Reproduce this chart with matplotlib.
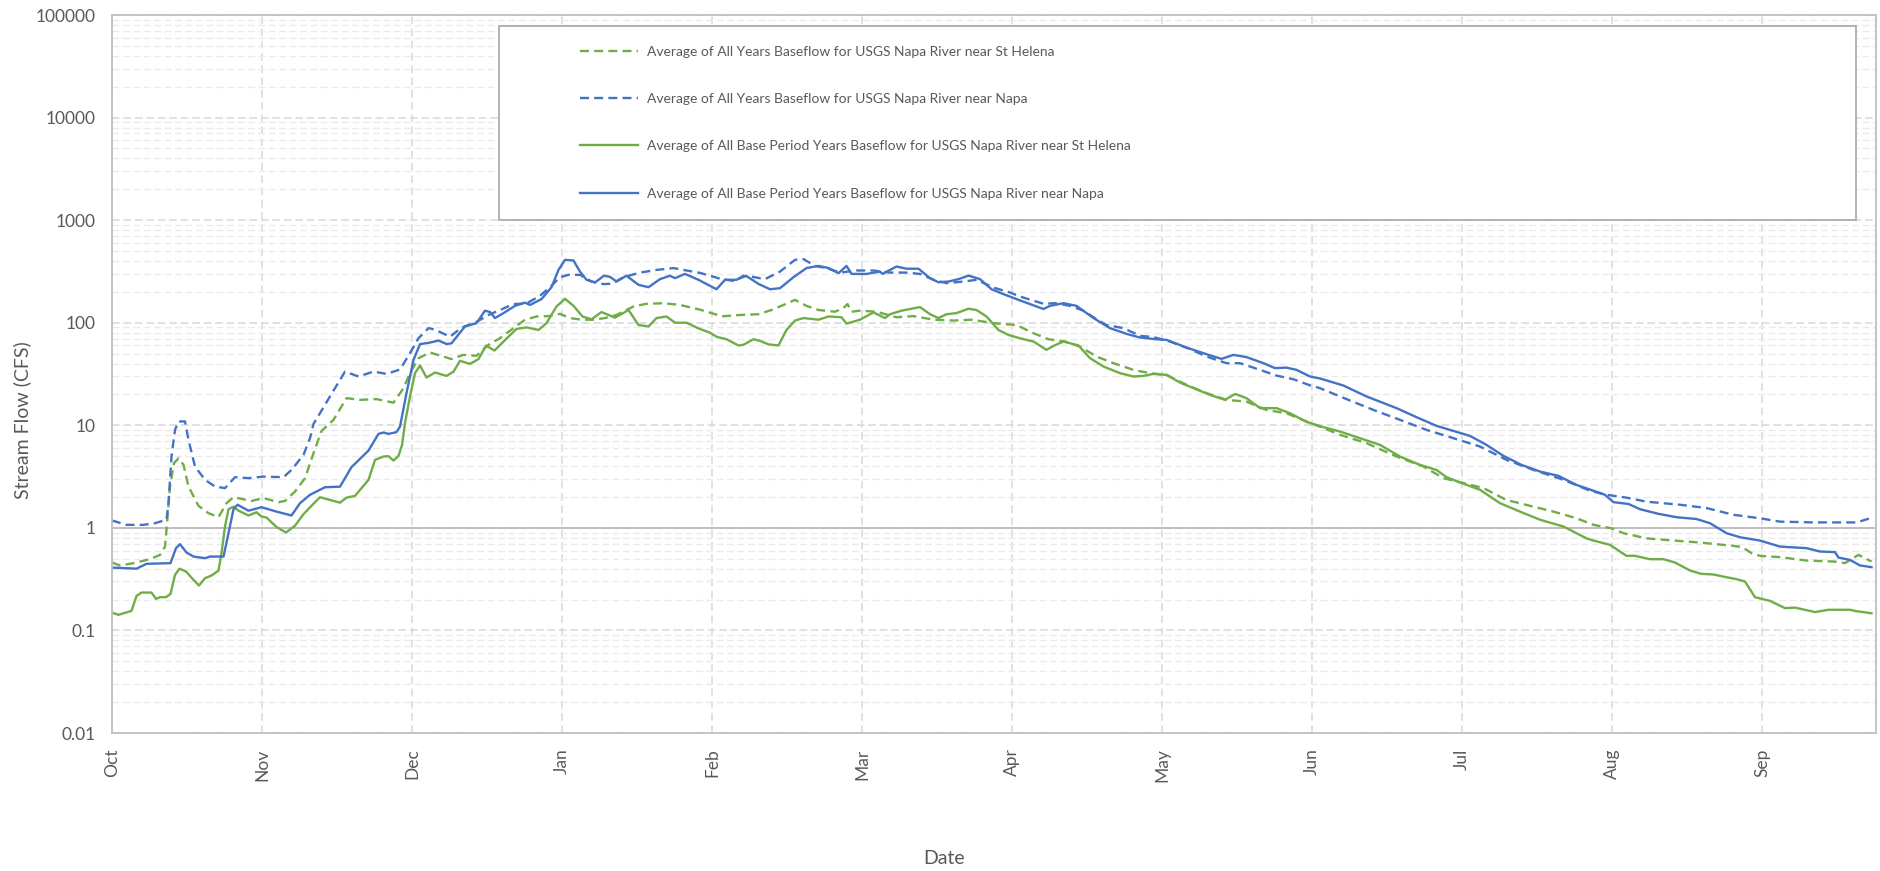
import matplotlib
matplotlib.use("Agg")
import matplotlib.pyplot as plt
from matplotlib.patches import Rectangle
from matplotlib.ticker import FixedLocator, LogLocator, NullFormatter

plt.rcParams['font.family'] = ['Lato', 'DejaVu Sans']

## month tick labels (each month = 30 day-units on this axis)
months = ['Oct', 'Nov', 'Dec', 'Jan', 'Feb', 'Mar', 'Apr', 'May', 'Jun', 'Jul', 'Aug', 'Sep']
ytick_vals = [0.01, 0.1, 1, 10, 100, 1000, 10000, 100000]
ytick_labels = ['0.01', '0.1', '1', '10', '100', '1000', '10000', '100000']

labels = ['Average of All Years Baseflow for USGS Napa River near St Helena',
          'Average of All Years Baseflow for USGS Napa River near Napa',
          'Average of All Base Period Years Baseflow for USGS Napa River near St Helena',
          'Average of All Base Period Years Baseflow for USGS Napa River near Napa']

## all years, St Helena (green dashed)
sth_all_day = [0, 1.6, 4.3, 7.6, 9.6, 10.6, 10.9, 11.6, 12.4, 13.3, 14.3, 15.3, 17.3, 19.3, 21.3, 22.9,
               24.3, 27.9, 30.3, 33.3, 34.6, 36.6, 38.6, 40.3, 41.9, 44.3, 46.9, 49.6, 52.9, 56.3, 58.3,
               59.6, 61.3, 63.6, 66.3, 67.9, 70.3, 72.9, 75.3, 77.6, 80.3, 82.6, 84.9, 87.3, 89.6, 91.6,
               93.9, 96.3, 98.6, 100.9, 104.3, 106.9, 110.3, 113.6, 117.6, 120.9, 121.6, 125.6, 129.3,
               131.9, 134.3, 136.6, 138.9, 141.3, 144.6, 146.3, 147.1, 147.9, 149.6, 152.9, 156.9, 160.3,
               164.3, 168.3, 171.9, 176.3, 178.5, 180.9, 184.3, 187.3, 190.6, 193.6, 196.9, 200.3, 204.3,
               207.6, 210.9, 214.9, 218.9, 222.9, 226.9, 230.9, 234.9, 238.9, 241.6, 245.6, 250.9, 256.9,
               262.3, 266.3, 270.3, 274.3, 278.9, 283.6, 288.3, 292.9, 296.3, 299.9, 302.3, 306.9, 312.3,
               317.6, 324.3, 326.0, 327.9, 329.6, 333.6, 338.9, 344.3, 346.6, 349.3, 351.9]
sth_all = [0.459, 0.43, 0.453, 0.495, 0.545, 0.657, 0.956, 2.53, 4.27, 4.78, 4.11, 2.53, 1.64, 1.39, 1.27, 1.74,
           1.99, 1.83, 1.95, 1.78, 1.83, 2.26, 3.05, 5.35, 8.8, 11.3, 18.4, 17.7, 18.0, 16.6, 23,
           32.2, 45.1, 51.2, 46.8, 44.2, 48.6, 47.6, 60.8, 70.7, 88.5, 107, 115, 116, 122, 111,
           107, 107, 111, 119, 144, 153, 155, 149, 134, 120, 115, 119, 121,
           133, 149, 167, 146, 133, 128, 139, 152, 128, 131, 128, 113, 116,
           107, 105, 107, 99, 97, 95, 79, 69, 65.5, 58.5, 46.8, 40.3, 34.7,
           32.2, 31.0, 24.8, 20.6, 17.7, 17.0, 14.1, 13.1, 10.9, 9.7, 8.07, 6.7, 4.96,
           3.96, 3.05, 2.73, 2.44, 1.87, 1.64, 1.44, 1.24, 1.07, 0.99, 0.887, 0.79, 0.752,
           0.719, 0.667, 0.65, 0.567, 0.533, 0.518, 0.48, 0.47, 0.453, 0.545, 0.47]

## all years, Napa (blue dashed)
napa_all_day = [0, 2.9, 6.3, 8.6, 10.9, 11.3, 11.9, 12.6, 13.3, 14.6, 15.3, 16.6, 18.6, 20.6, 22.6, 24.6,
                27.3, 30.3, 34.3, 35.9, 38.3, 39.6, 40.3, 43.6, 46.6, 49.3, 52.3, 54.9, 57.6, 59.6, 61.3,
                63.3, 64.5, 67.6, 69.9, 72.6, 75.3, 77.6, 80.3, 82.9, 85.6, 87.9, 89.6, 91.3, 93.6, 95.9,
                98.3, 100.0, 102.3, 105.6, 108.9, 112.3, 114.9, 117.6, 120.6, 121.6, 124.3, 126.9, 130.6,
                133.6, 136.6, 138.3, 140.6, 142.9, 145.6, 148.9, 152.3, 155.6, 158.9, 161.6, 164.3, 166.9,
                170.3, 172.9, 176.3, 179.6, 181.6, 186.3, 188.6, 191.6, 194.3, 196.9, 198.9, 202.3, 205.6,
                208.3, 211.6, 215.6, 218.9, 222.9, 225.6, 229.6, 232.9, 236.3, 239.6, 241.6, 246.9, 252.3,
                257.6, 262.9, 268.3, 273.6, 278.9, 284.3, 290.3, 295.6, 298.9, 302.9, 306.9, 313.6, 318.9,
                324.3, 329.6, 333.6, 340.3, 348.9, 351.9]
napa_all = [1.18, 1.07, 1.07, 1.11, 1.20, 1.74, 4.96, 9.0, 10.9, 10.9, 7.21, 3.96, 2.94, 2.53, 2.44, 3.12,
            3.05, 3.16, 3.12, 3.67, 5.15, 7.48, 10.3, 19.1, 33.4, 29.9, 33.4, 31.7, 35, 50.5, 70.7,
            88.5, 86, 73, 89.5, 100, 119, 133, 152, 154, 183, 229, 278, 293, 293, 252,
            238, 240, 278, 308, 327, 341, 323, 306, 278, 268, 256, 287, 266,
            315, 410, 417, 358, 341, 308, 323, 323, 308, 308, 299, 262, 243,
            252, 262, 220, 197, 180, 153, 155, 146, 131, 108, 95, 88.5, 74.5,
            72.5, 65.5, 55.3, 46.8, 40.3, 40.3, 34.7, 30.5, 28.1, 24.5, 23.0, 18.0, 14.1,
            11.3, 9.02, 7.48, 6.21, 4.6, 3.67, 2.94, 2.3, 2.10, 1.97, 1.80, 1.68, 1.56,
            1.34, 1.24, 1.15, 1.13, 1.13, 1.25]

## base period years, St Helena (green solid)
sth_base_day = [0, 1.3, 3.9, 4.9, 5.9, 7.9, 8.8, 9.6, 10.8, 11.7, 12.6, 13.5, 14.8, 16.3, 17.4, 18.6, 19.9,
                21.3, 21.9, 22.6, 23.3, 24.3, 25.3, 27.3, 28.9, 29.9, 30.9, 32.9, 34.8, 36.6, 38.3, 39.9,
                41.6, 43.6, 45.6, 46.9, 48.6, 51.3, 52.6, 54.3, 55.3, 56.3, 57.3, 58.0, 58.6, 59.6, 60.6,
                61.6, 62.9, 64.6, 66.9, 68.3, 69.6, 71.6, 73.3, 74.8, 76.5, 78.3, 80.9, 82.9, 85.3, 86.9,
                88.9, 90.6, 92.3, 94.1, 95.9, 97.9, 100.6, 103.3, 105.3, 107.3, 108.9, 110.9, 112.6, 114.9,
                117.3, 119.6, 120.9, 122.9, 125.3, 126.3, 128.3, 129.6, 131.3, 133.3, 134.9, 136.6, 138.3,
                141.3, 143.3, 145.9, 146.9, 149.6, 152.3, 154.6, 155.6, 157.9, 159.6, 161.6, 163.6, 165.3,
                166.9, 168.9, 171.3, 172.9, 174.9, 177.3, 179.3, 181.6, 184.3, 186.9, 188.3, 190.3, 193.3,
                195.6, 198.3, 201.6, 204.3, 206.3, 208.3, 210.9, 213.6, 216.3, 219.6, 222.6, 224.6, 226.9,
                229.6, 232.9, 235.6, 238.9, 241.6, 245.6, 249.6, 253.6, 257.6, 261.6, 264.9, 266.9, 269.6,
                273.6, 277.6, 281.6, 285.6, 290.3, 294.9, 296.3, 299.6, 302.9, 304.5, 307.6, 310.3, 312.6,
                315.6, 317.9, 320.3, 322.9, 324.9, 326.6, 328.6, 331.6, 334.6, 336.6, 340.6, 343.3, 347.6,
                348.9, 351.9]
sth_base = [0.149, 0.142, 0.155, 0.217, 0.234, 0.234, 0.203, 0.211, 0.211, 0.227, 0.348, 0.40, 0.375, 0.311,
            0.274, 0.323, 0.343,
            0.383, 0.567, 1.03, 1.52, 1.61, 1.47, 1.32, 1.42, 1.29, 1.26, 1.02, 0.90, 1.05, 1.36, 1.64,
            1.99, 1.87, 1.76, 1.97, 2.05, 2.94, 4.6, 4.96, 5.0, 4.53, 5.03, 6.4, 10.5, 19.1, 32.2,
            38.3, 29.2, 32.7, 30.3, 33.4, 42.5, 39.7, 44.2, 59.9, 53.5, 65.5, 87, 90, 85, 99,
            144, 171, 146, 115, 108, 127, 112, 133, 95, 92, 111, 115, 100, 100,
            88, 80, 73, 69, 60, 61, 69, 66.5, 61.5, 60, 85, 105, 111,
            107, 115, 113, 98, 107, 126, 111, 121, 131, 136, 142, 121, 111,
            121, 124, 137, 133, 115, 85, 76, 70.5, 65.5, 54.4, 59.5, 65.5, 60,
            45.1, 37.4, 32.2, 29.9, 30.3, 31.7, 31.0, 26.1, 23.0, 19.8, 17.7, 20.2, 18.4,
            14.7, 14.7, 13.1, 10.8, 9.8, 8.69, 7.48, 6.44, 4.96, 4.11, 3.67, 3.12, 2.77,
            2.35, 1.74, 1.44, 1.20, 1.03, 0.79, 0.752, 0.683, 0.533, 0.535, 0.495, 0.495, 0.459,
            0.384, 0.356, 0.351, 0.330, 0.316, 0.30, 0.211, 0.194, 0.165, 0.167, 0.151, 0.159, 0.159,
            0.154, 0.147]

## base period years, Napa (blue solid)
napa_base_day = [0, 4.9, 6.9, 11.7, 12.8, 13.6, 14.9, 16.3, 18.6, 19.6, 22.3, 23.3, 24.3, 25.1, 27.3, 29.9,
                 32.9, 35.9, 37.6, 39.6, 42.6, 45.6, 47.9, 51.3, 53.3, 54.3, 55.3, 56.9, 57.6, 58.9, 60.3,
                 61.6, 63.6, 65.3, 66.9, 67.9, 70.6, 72.9, 74.6, 75.6, 76.6, 78.3, 80.6, 82.6, 83.6, 85.9,
                 87.9, 89.3, 90.6, 92.3, 93.6, 94.9, 96.6, 98.4, 99.6, 100.9, 102.9, 105.3, 107.3, 109.6,
                 111.6, 112.6, 114.6, 117.3, 120.9, 122.6, 124.9, 126.3, 127.0, 129.3, 131.6, 133.6, 136.3,
                 138.9, 141.3, 143.3, 145.3, 146.9, 147.9, 150.9, 153.6, 154.1, 156.9, 158.9, 161.3, 163.6,
                 165.3, 167.3, 169.3, 171.3, 173.6, 175.9, 178.3, 181.6, 186.3, 187.6, 190.3, 192.9, 196.3,
                 199.6, 202.9, 205.6, 208.9, 210.9, 214.9, 218.9, 221.9, 224.3, 226.9, 230.3, 232.6, 234.9,
                 236.9, 239.6, 241.6, 246.3, 250.9, 256.9, 260.9, 264.9, 267.6, 271.6, 274.9, 278.3, 281.9,
                 285.6, 289.3, 292.9, 296.3, 298.6, 300.3, 303.3, 305.6, 309.3, 312.9, 316.9, 319.6, 322.9,
                 325.6, 329.6, 333.6, 338.9, 341.6, 344.6, 345.3, 347.6, 349.6, 351.9]
napa_base = [0.41, 0.40, 0.446, 0.453, 0.634, 0.693, 0.575, 0.525, 0.506, 0.525, 0.525, 0.887, 1.52, 1.68, 1.47,
             1.59,
             1.44, 1.32, 1.74, 2.10, 2.49, 2.52, 3.91, 5.67, 8.25, 8.5, 8.25, 8.57, 9.7, 20.6, 43.4,
             61.8, 64, 67, 62, 63, 92, 99, 131, 127, 111, 124, 146, 157, 149, 170,
             222, 327, 410, 404, 315, 262, 247, 287, 280, 252, 287, 234, 222, 266,
             287, 272, 299, 262, 212, 262, 262, 287, 283, 239, 212, 217, 278,
             341, 358, 341, 304, 358, 299, 299, 315, 299, 353, 336, 336, 272,
             248, 252, 266, 288, 266, 212, 190, 165, 136, 146, 155, 146, 111,
             88.5, 77.9, 71.7, 69, 68, 57.3, 49.3, 44.4, 48.6, 46.2, 40.3, 36.1, 36.5,
             34.7, 29.9, 28.6, 24.4, 19.1, 14.7, 12.0, 9.87, 9.02, 7.88, 6.44, 5.03, 4.11,
             3.54, 3.21, 2.62, 2.30, 2.10, 1.78, 1.71, 1.52, 1.37, 1.27, 1.22, 1.11, 0.887,
             0.81, 0.752, 0.657, 0.634, 0.588, 0.58, 0.513, 0.487, 0.43, 0.414]

green = '#70AD47'
blue = '#4472C4'
text_col = '#595959'
grid_col = '#D9D9D9'

fig = plt.figure(figsize=(18.81, 8.71), dpi=100)
ax = fig.add_axes([112 / 1881, 1 - 733 / 871, (1876 - 112) / 1881, (733 - 15) / 871])

dash = (0, (3.8, 2.2))
l1, = ax.plot(sth_all_day, sth_all, color=green, lw=1.7, linestyle=dash)
l2, = ax.plot(napa_all_day, napa_all, color=blue, lw=1.7, linestyle=dash)
l3, = ax.plot(sth_base_day, sth_base, color=green, lw=1.7)
l4, = ax.plot(napa_base_day, napa_base, color=blue, lw=1.7)

ax.set_yscale('log')
ax.set_ylim(0.01, 100000)
ax.set_xlim(0, 352.8)

ax.yaxis.set_major_locator(FixedLocator(ytick_vals))
ax.set_yticklabels(ytick_labels)
ax.yaxis.set_minor_locator(LogLocator(base=10, subs=range(2, 10), numticks=20))
ax.yaxis.set_minor_formatter(NullFormatter())
ax.set_xticks([30 * i for i in range(len(months))])
ax.set_xticklabels(months, rotation=90, va='top', ha='center')

ax.tick_params(axis='both', which='both', length=0, colors=text_col, labelsize=12.5)
ax.tick_params(axis='y', pad=12)
ax.tick_params(axis='x', pad=11)

ax.grid(True, which='major', axis='x', color=grid_col, lw=1.1, linestyle=(0, (5, 3)))
ax.grid(True, which='major', axis='y', color=grid_col, lw=1.1, linestyle=(0, (5, 2.5)))
ax.grid(True, which='minor', axis='y', color='#EBEBEB', lw=1.0, linestyle=(0, (5, 2.5)))
ax.set_axisbelow(True)
ax.axhline(1, color='#BFBFBF', lw=1.4, zorder=1.5)

for s in ax.spines.values():
    s.set_color('#BFBFBF')
    s.set_linewidth(1.3)

fig.text(944 / 1881, 1 - 858 / 871, 'Date', ha='center', va='center', fontsize=14, color=text_col)
fig.text(22 / 1881, 1 - 420 / 871, 'Stream Flow (CFS)', ha='center', va='center', rotation=90,
         fontsize=14, color=text_col)

## legend box drawn as a plain rectangle, entries without frame
ax.add_patch(Rectangle((0.2194, 0.7145), 0.9887 - 0.2194, 0.9847 - 0.7145, transform=ax.transAxes,
                       facecolor='white', edgecolor='#A6A6A6', lw=1.2, zorder=5))
leg = ax.legend([l1, l2, l3, l4], labels, loc='upper left', bbox_to_anchor=(0.2653, 0.9575),
                frameon=False, borderpad=0, borderaxespad=0, fontsize=10, handlelength=4.2,
                handletextpad=0.6, labelspacing=2.55, labelcolor=text_col)
leg.set_zorder(6)

fig.savefig('out.png', dpi=100, facecolor='white')
